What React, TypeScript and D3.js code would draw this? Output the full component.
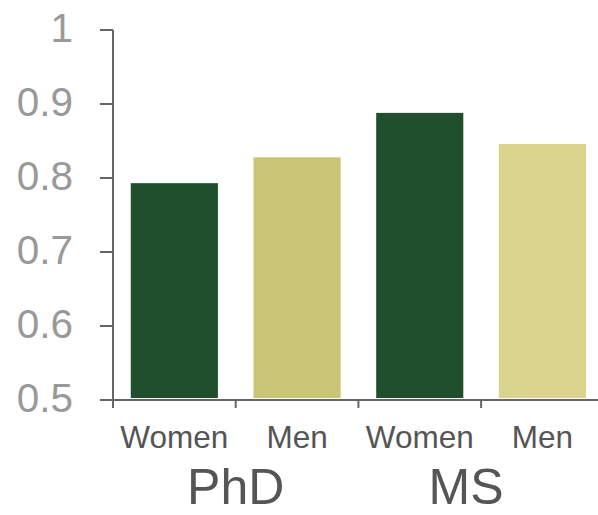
import React from "react";
import * as d3 from "d3";

const categories = ["PhD Women", "PhD Men", "MS Women", "MS Men"];
const barLabels = ["Women", "Men", "Women", "Men"];
const values = [0.793, 0.828, 0.888, 0.846];
const barColors = ["#1f4f2d", "#c9c574", "#1f4f2d", "#dbd48f"];
const groups = ["PhD", "MS"];
const yTicks = [0.5, 0.6, 0.7, 0.8, 0.9, 1];

export default function App() {
  const W = 598, H = 515;
  const x0 = 113, y0 = 400;
  const y = d3.scaleLinear().domain([0.5, 1]).range([400, 30]);
  const x = d3.scaleBand<string>().domain(categories).range([x0, x0 + 4 * 122.7]).paddingInner(0.29).paddingOuter(0.145);
  const step = x.step();
  const font = "Liberation Sans, Arial, sans-serif";
  const groupCenters = [
    (x0 + x0 + 2 * step) / 2,
    (x0 + 2 * step + x0 + 4 * step) / 2 - 15,
  ];
  return (
    <svg width={W} height={H} style={{ position: "absolute", left: 0, top: 0, background: "#fff" }} fontFamily={font}>
      {categories.map((c, i) => (
        <rect key={c} x={x(c)} y={y(values[i])} width={x.bandwidth()} height={y(0.5) - y(values[i]) - 2} fill={barColors[i]} />
      ))}
      <line x1={x0} x2={x0} y1={y(1)} y2={y0 + 8} stroke="#666" strokeWidth={2} />
      <line x1={100} x2={W} y1={y0} y2={y0} stroke="#666" strokeWidth={2} />
      {yTicks.map((t) => (
        <g key={t}>
          <line x1={100} x2={x0} y1={y(t)} y2={y(t)} stroke="#666" strokeWidth={2} />
          <text x={73} y={y(t) + 12} textAnchor="end" fontSize={40.5} fill="#999">{String(t)}</text>
        </g>
      ))}
      {[0, 1, 2, 3].map((i) => (
        <line key={i} x1={x0 + i * step} x2={x0 + i * step} y1={y0} y2={y0 + 8} stroke="#666" strokeWidth={2} />
      ))}
      {categories.map((c, i) => (
        <text key={c} x={(x(c) as number) + x.bandwidth() / 2} y={448} textAnchor="middle" fontSize={31.5} fill="#555">{barLabels[i]}</text>
      ))}
      {groups.map((g, i) => (
        <text key={g} x={groupCenters[i]} y={504} textAnchor="middle" fontSize={50} fill="#555">{g}</text>
      ))}
    </svg>
  );
}
